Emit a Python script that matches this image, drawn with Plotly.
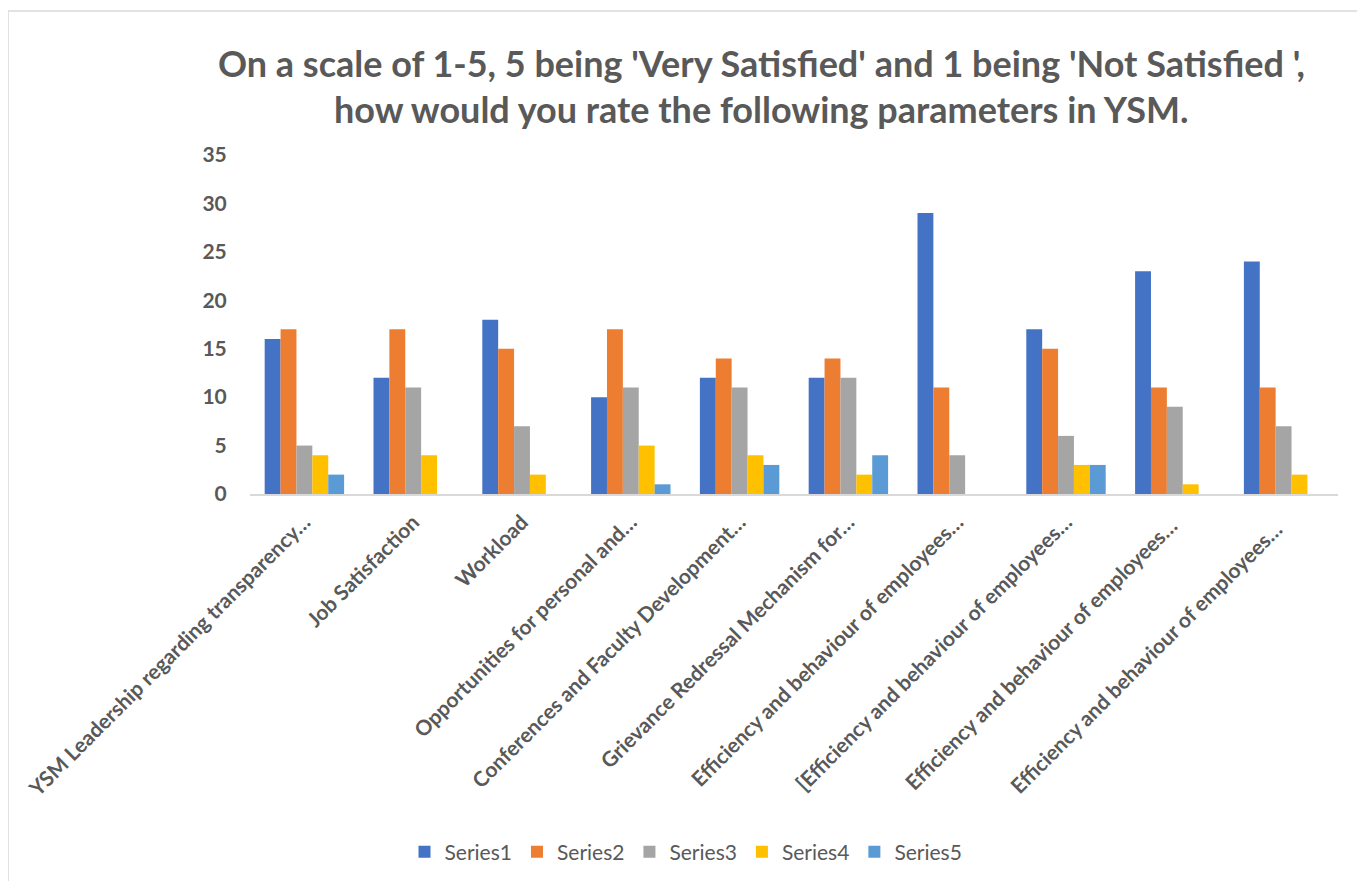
import plotly.graph_objects as go

categories = [
    "YSM Leadership regarding transparency…",
    "Job Satisfaction",
    "Workload",
    "Opportunities for personal and…",
    "Conferences and Faculty Development…",
    "Grievance Redressal Mechanism for…",
    "Efficiency and behaviour of employees…",
    "[Efficiency and behaviour of employees…",
    "Efficiency and behaviour of employees… ",
    "Efficiency and behaviour of employees…  ",
]
series_names = ["Series1", "Series2", "Series3", "Series4", "Series5"]
series1 = [16, 12, 18, 10, 12, 12, 29, 17, 23, 24]
series2 = [17, 17, 15, 17, 14, 14, 11, 15, 11, 11]
series3 = [5, 11, 7, 11, 11, 12, 4, 6, 9, 7]
series4 = [4, 4, 2, 5, 4, 2, 0, 3, 1, 2]
series5 = [2, 0, 0, 1, 3, 4, 0, 3, 0, 0]
colors = ["#4472C4", "#ED7D31", "#A5A5A5", "#FFC000", "#5B9BD5"]
title_lines = ["On a scale of 1-5, 5 being 'Very Satisfied' and 1 being 'Not Satisfied ',",
               "how would you rate the following parameters in YSM."]

# page has an 8px body margin; figure coordinates = reference pixel - 8
OFF = 8
W, H = 1365 - OFF, 881 - OFF
L, R, T, B = 250 - OFF, 27, 155 - OFF, 881 - 494
FONT = "Lato"
GREY = "#595959"

fig = go.Figure()
for name, vals, col in zip(series_names, [series1, series2, series3, series4, series5], colors):
    fig.add_trace(go.Bar(name=name, x=categories, y=vals, marker=dict(color=col, line=dict(width=0))))

pw = W - L - R
ph = H - T - B
def px_x(x):
    return (x - OFF - L) / pw
def px_y(y):
    return (H - B - (y - OFF)) / ph

annotations = []
for line, yc in zip(title_lines, [63, 109]):
    annotations.append(dict(text=line, xref="paper", yref="paper", x=px_x(761), y=px_y(yc),
                            xanchor="center", yanchor="middle", showarrow=False,
                            font=dict(family=FONT, size=36, color=GREY, weight="bold")))

fig.update_layout(
    width=W, height=H,
    margin=dict(l=L, r=R, t=T, b=B),
    paper_bgcolor="white", plot_bgcolor="white",
    barmode="group", bargap=0.27, bargroupgap=0,
    font=dict(family=FONT, color=GREY),
    annotations=annotations,
    legend=dict(orientation="h", xref="container", yref="container",
                x=(686 - OFF) / W, xanchor="center", y=1 - (852 - OFF) / H, yanchor="middle",
                font=dict(family=FONT, size=21, color=GREY), itemwidth=30,
                traceorder="normal"),
    xaxis=dict(tickangle=-45, showline=True, linecolor="#D9D9D9", linewidth=1.5,
               showgrid=False, ticks="outside", ticklen=6, tickcolor="rgba(0,0,0,0)",
               tickfont=dict(family=FONT, size=21, color=GREY, weight="bold"),
               fixedrange=True),
    yaxis=dict(range=[0, 35], dtick=5, showgrid=False, zeroline=False, showline=False,
               ticks="outside", ticklen=18, tickcolor="rgba(0,0,0,0)",
               tickfont=dict(family=FONT, size=21, color=GREY, weight="bold"),
               fixedrange=True),
    shapes=[dict(type="rect", xref="paper", yref="paper",
                 x0=px_x(8), x1=px_x(1361), y0=px_y(895), y1=px_y(11),
                 line=dict(color="#D9D9D9", width=1.5), fillcolor="rgba(0,0,0,0)")],
)

fig.write_html("out.html")
